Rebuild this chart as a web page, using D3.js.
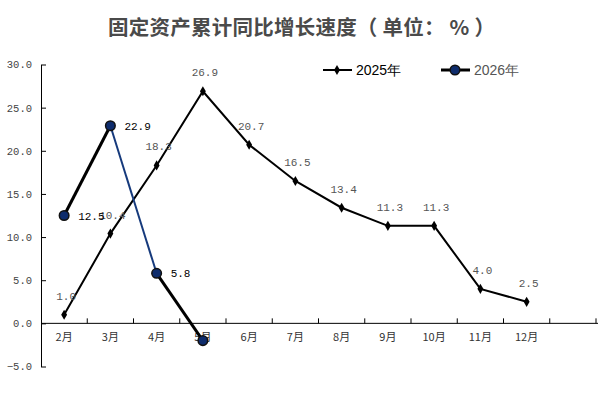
<!DOCTYPE html>
<html><head><meta charset="utf-8">
<script src="https://cdn.jsdelivr.net/npm/d3@7/dist/d3.min.js"></script>
<style>body{margin:0;background:#fff;} svg{display:block;}</style>
</head><body><svg id="c" width="610" height="419"></svg>
<script>
const months = ["2月","3月","4月","5月","6月","7月","8月","9月","10月","11月","12月"];
const slots = months.concat(["_"]);
const values2025 = [1.0,10.4,18.3,26.9,20.7,16.5,13.4,11.3,11.3,4.0,2.5];
const values2026 = [12.5,22.9,5.8,-2.0];
const labels2026 = ["12.5","22.9","5.8",""];
const yTicks = [-5,0,5,10,15,20,25,30];
const title = "固定资产累计同比增长速度（ 单位： % ）";
const seriesNames = ["2025年","2026年"];

const svg = d3.select("#c");
const mLeft = 41, mRight = 596, mTop = 64.5, mBottom = 366.5;
const x = d3.scaleBand().domain(slots).range([mLeft, mRight]).padding(0);
const y = d3.scaleLinear().domain([-5, 30]).range([mBottom, mTop]);
const cx = m => x(m) + x.bandwidth()/2;
const mono = "'Liberation Mono','DejaVu Sans Mono','Noto Sans CJK SC',monospace";

svg.append("text").attr("x", 108).attr("y", 35).attr("textLength", 387).attr("lengthAdjust","spacing")
  .attr("font-family","'Noto Sans CJK SC',sans-serif").attr("font-weight","bold")
  .attr("font-size",20.5).attr("fill","#4a4a4a").text(title);

// y axis
const ya = svg.append("g").attr("transform",`translate(${mLeft},0)`)
  .call(d3.axisLeft(y).tickValues(yTicks).tickFormat(d3.format(".1f")).tickSizeInner(-5).tickSizeOuter(0).tickPadding(9));
ya.select(".domain").attr("stroke","#000");
ya.selectAll(".tick line").attr("stroke","#000");
ya.selectAll("text").attr("font-family",mono).attr("font-size",10.5).attr("fill","#444");

// x axis at y=0
const xa = svg.append("g").attr("transform",`translate(0,${y(0)})`)
  .call(d3.axisBottom(x).tickSize(0).tickPadding(10).tickFormat(d => d === "_" ? "" : d));
xa.select(".domain").attr("stroke","#000").attr("d", `M${mLeft},0H${mRight+2}`);
xa.selectAll("text").attr("font-family","'Noto Sans CJK SC',sans-serif").attr("font-size",11).attr("fill","#333");
svg.append("g").selectAll("line").data(slots).join("line")
  .attr("x1", d => x(d)+x.bandwidth()).attr("x2", d => x(d)+x.bandwidth())
  .attr("y1", y(0)).attr("y2", y(0)-5).attr("stroke","#000");

// 2025 series
const line = d3.line().x(d => cx(d.m)).y(d => y(d.v));
const d25 = months.map((m,i)=>({m, v: values2025[i]}));
svg.append("path").datum(d25).attr("d", line).attr("fill","none").attr("stroke","#000").attr("stroke-width",2);
svg.append("g").selectAll("path").data(d25).join("path")
  .attr("d", d3.symbol(d3.symbolDiamond, 30)())
  .attr("transform", d => `translate(${cx(d.m)},${y(d.v)})`).attr("fill","#000");
svg.append("g").selectAll("text").data(d25).join("text")
  .attr("x", d => cx(d.m)+2).attr("y", d => y(d.v)-15).attr("text-anchor","middle")
  .attr("font-family",mono).attr("font-size",11).attr("fill","#555").text(d => d.v.toFixed(1));

// 2026 series
const d26 = values2026.map((v,i)=>({m: months[i], v, l: labels2026[i]}));
const segColors = ["#000","#163a7c","#000"];
const segWidths = [3,2,3];
for (let i=0;i<d26.length-1;i++){
  svg.append("path").datum([d26[i], d26[i+1]]).attr("d", line).attr("fill","none")
    .attr("stroke", segColors[i]).attr("stroke-width", segWidths[i]);
}
svg.append("g").selectAll("circle").data(d26).join("circle")
  .attr("cx", d => cx(d.m)).attr("cy", d => y(d.v)).attr("r",4.8)
  .attr("fill","#0e2c6c").attr("stroke","#111").attr("stroke-width",1.5);
svg.append("g").selectAll("text").data(d26).join("text")
  .attr("x", d => cx(d.m)+14).attr("y", d => y(d.v)+4)
  .attr("font-family",mono).attr("font-size",11).attr("fill","#000").text(d => d.l);

// legend
const lg = svg.append("g");
lg.append("line").attr("x1",323).attr("x2",352).attr("y1",70).attr("y2",70).attr("stroke","#000").attr("stroke-width",2);
lg.append("path").attr("d", d3.symbol(d3.symbolDiamond, 30)()).attr("transform","translate(337,70)").attr("fill","#000");
lg.append("text").attr("x",356).attr("y",75).attr("font-family","'Liberation Sans',Arial,sans-serif")
  .attr("font-size",14).attr("fill","#000").text(seriesNames[0]);
lg.append("line").attr("x1",441).attr("x2",470).attr("y1",70).attr("y2",70).attr("stroke","#000").attr("stroke-width",3);
lg.append("circle").attr("cx",455).attr("cy",70).attr("r",4.8).attr("fill","#0e2c6c").attr("stroke","#111").attr("stroke-width",1.5);
lg.append("text").attr("x",474).attr("y",75).attr("font-family","'Liberation Sans',Arial,sans-serif")
  .attr("font-size",14).attr("fill","#555").text(seriesNames[1]);
</script></body></html>
